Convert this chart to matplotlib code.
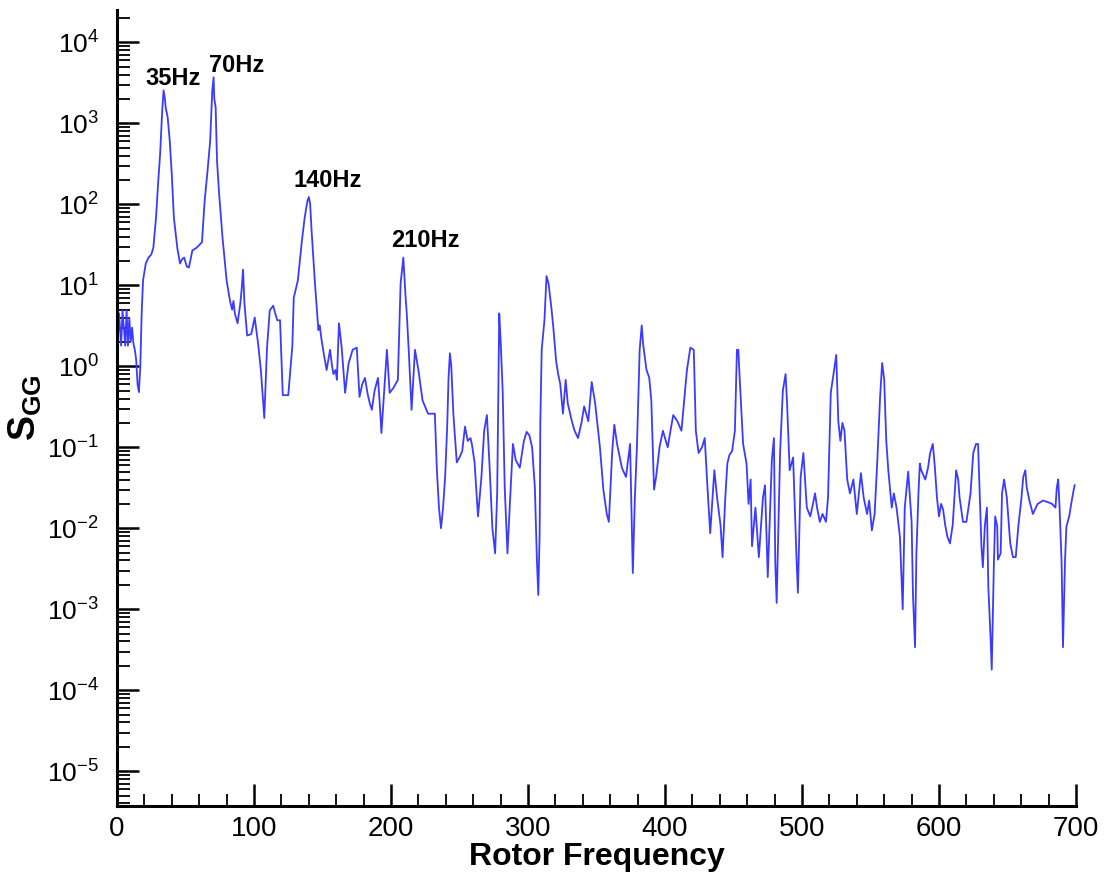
import matplotlib
matplotlib.use("Agg")
import matplotlib.pyplot as plt
from matplotlib.ticker import LogLocator, MultipleLocator, LogFormatterSciNotation, NullFormatter

plt.rcParams['font.family'] = ['Liberation Sans', 'DejaVu Sans']
plt.rcParams['mathtext.fontset'] = 'custom'
plt.rcParams['mathtext.rm'] = 'Liberation Sans'
plt.rcParams['mathtext.it'] = 'Liberation Sans:italic'
plt.rcParams['mathtext.bf'] = 'Liberation Sans:bold'
plt.rcParams['axes.unicode_minus'] = False

# spectrum (Hz, S_GG)
freq = [0, 0.5, 1.5, 3, 4, 6, 7, 8, 9, 10, 11, 12, 13, 14, 15, 16, 17, 18, 19, 21, 23, 25, 26.5, 27.5, 28.5,
        30, 31.5, 33, 34, 35, 35.5, 37, 38.5, 40, 41.5, 44, 46, 47.5, 49, 51, 52.5, 55, 58, 62, 64, 66, 68,
        69.5, 70.5, 71, 72, 73, 74.5, 77, 80, 82.5, 84, 85, 86, 88, 90, 91, 92, 93, 95, 98, 100.5, 103, 105,
        107.5, 109.5, 111.5, 114, 115.5, 117, 119, 121, 125, 128, 129, 132, 135, 137, 139, 140, 141, 142,
        144.5, 147, 148, 149, 151, 153, 155.5, 157, 158, 159.5, 160.5, 162, 164, 166.5, 169, 172, 175, 177,
        179, 181, 183, 184.5, 186, 188, 190.5, 192, 193, 195, 197, 199, 202, 205, 207, 209, 210.5, 211.5,
        213, 215, 217.5, 220, 223, 227, 232, 233.5, 235, 236.5, 238, 239.5, 241, 242, 243, 244, 245.5, 248,
        250, 252, 254, 256, 258, 259, 261, 263.5, 266, 268, 270, 272, 274, 276, 277.5, 279, 280, 281.5, 283,
        285, 287, 289, 291, 294, 297, 299, 301, 303, 305, 306.5, 307.5, 308.5, 309, 310, 312, 313.5, 315,
        317, 318.5, 320.5, 322, 323.5, 325.5, 327.5, 329, 332, 334, 336.5, 339, 341, 344, 346.5, 349, 352.5,
        355, 357.5, 359, 361.5, 363, 365, 368.5, 371.5, 374.5, 376, 376.5, 378, 379.5, 381.5, 383, 384,
        386.5, 388.5, 390, 392, 393.5, 396, 398.5, 400, 402, 404, 406, 409, 412, 414, 416, 418.5, 421, 422.5,
        424.5, 427, 429, 431, 433, 436, 438, 440.5, 442, 444, 445.5, 447, 449, 451, 452.5, 453.5, 454.5, 457,
        459.5, 461, 462.5, 463.5, 466, 468.5, 471.5, 473, 475, 478, 479.5, 480.5, 481.5, 484, 486, 488, 489,
        491, 493.5, 496, 497, 499, 501, 503.5, 506, 508, 509.5, 511, 513, 515, 517.5, 519, 521, 523, 525,
        526.5, 528, 529.5, 531, 533, 535, 537.5, 540, 543, 545, 547.5, 549, 551, 553, 555, 557, 558.5, 560,
        561.5, 563, 565.5, 567, 569, 571.5, 573.5, 575, 577.5, 580, 581, 582.5, 583.5, 585, 586, 587, 590,
        592, 593.5, 595.5, 597, 598.5, 600, 601.5, 603, 604.5, 606, 608, 610, 612.5, 614, 615, 617.5, 620,
        623, 625, 627, 628.5, 630, 631, 632, 633.5, 635, 636, 637.5, 638.5, 640, 641, 642.5, 643, 645, 646,
        647.5, 649.5, 652, 654, 656, 658, 660, 661.5, 663, 664, 666, 668.5, 670, 672, 676, 679.5, 682.5, 685,
        686, 687, 688, 689.5, 690.5, 692, 693, 695, 696.5, 698, 699]

sgg = [39, 2.0, 4.5, 1.8, 4.9, 1.8, 4.9, 1.8, 4.0, 2.0, 3.0, 1.9, 1.6, 1.2, 0.6, 0.48, 1.0, 4.5, 11.5, 18.6,
       22, 24, 29, 44, 69, 182, 427, 1450, 2560, 2000, 1580, 1180, 610, 230, 69, 29, 18.6, 21, 22, 17, 16.6,
       27, 29, 34, 112, 250, 610, 2500, 3700, 2000, 1580, 345, 137, 39, 11.5, 6.4, 5, 6.4, 4.5, 3.4, 6, 9,
       15.6, 6, 2.4, 2.5, 4, 1.9, 0.9, 0.23, 1.7, 4.9, 5.6, 4.5, 3.7, 3.7, 0.44, 0.44, 1.8, 7, 11.5, 36, 69,
       110, 123, 100, 48, 10.5, 2.8, 3.2, 2.3, 1.4, 0.9, 1.6, 1.0, 0.8, 0.9, 0.68, 3.4, 1.7, 0.47, 1.08, 1.6,
       1.7, 0.42, 0.6, 0.72, 0.45, 0.35, 0.29, 0.5, 0.72, 0.3, 0.15, 0.5, 1.6, 0.47, 0.55, 0.68, 10.5, 22,
       7.8, 4.5, 1.5, 0.29, 1.6, 0.9, 0.38, 0.26, 0.26, 0.052, 0.018, 0.010, 0.018, 0.043, 0.18, 0.72, 1.45,
       1.0, 0.26, 0.065, 0.075, 0.09, 0.18, 0.12, 0.13, 0.11, 0.065, 0.014, 0.043, 0.16, 0.25, 0.056, 0.010,
       0.0049, 0.027, 4.5, 2.1, 0.5, 0.032, 0.0049, 0.024, 0.11, 0.07, 0.056, 0.12, 0.155, 0.14, 0.1, 0.032,
       0.004, 0.0015, 0.0087, 0.21, 1.6, 3.7, 13, 10.5, 5.4, 3.0, 1.17, 0.8, 0.61, 0.26, 0.68, 0.35, 0.21,
       0.16, 0.13, 0.2, 0.32, 0.21, 0.64, 0.35, 0.1, 0.03, 0.015, 0.012, 0.09, 0.19, 0.11, 0.056, 0.043,
       0.11, 0.0071, 0.0028, 0.024, 0.1, 1.6, 3.2, 1.9, 0.9, 0.72, 0.38, 0.03, 0.043, 0.1, 0.16, 0.13, 0.1,
       0.16, 0.25, 0.21, 0.16, 0.38, 0.9, 1.7, 1.6, 0.16, 0.085, 0.1, 0.13, 0.032, 0.0087, 0.052, 0.024,
       0.011, 0.0044, 0.024, 0.063, 0.08, 0.09, 0.16, 1.6, 1.6, 0.72, 0.11, 0.063, 0.02, 0.04, 0.006, 0.018,
       0.0044, 0.024, 0.034, 0.0025, 0.07, 0.13, 0.0037, 0.0012, 0.085, 0.5, 0.8, 0.38, 0.052, 0.075,
       0.0042, 0.0016, 0.043, 0.085, 0.018, 0.014, 0.02, 0.027, 0.018, 0.012, 0.015, 0.012, 0.024, 0.47,
       0.8, 1.38, 0.21, 0.12, 0.2, 0.16, 0.04, 0.027, 0.04, 0.015, 0.048, 0.024, 0.015, 0.022, 0.0094,
       0.015, 0.07, 0.42, 1.1, 0.68, 0.12, 0.052, 0.018, 0.027, 0.018, 0.0078, 0.001, 0.018, 0.05, 0.012,
       0.0015, 0.00034, 0.0049, 0.027, 0.063, 0.052, 0.04, 0.056, 0.085, 0.11, 0.056, 0.024, 0.014, 0.02,
       0.017, 0.011, 0.008, 0.0065, 0.011, 0.052, 0.04, 0.024, 0.012, 0.012, 0.027, 0.085, 0.11, 0.11,
       0.02, 0.0059, 0.0033, 0.011, 0.018, 0.0019, 0.0005, 0.00018, 0.0033, 0.014, 0.0105, 0.0041, 0.0049,
       0.027, 0.04, 0.024, 0.0065, 0.0044, 0.0044, 0.011, 0.022, 0.043, 0.052, 0.032, 0.022, 0.015, 0.017,
       0.02, 0.022, 0.021, 0.02, 0.018, 0.032, 0.04, 0.018, 0.0037, 0.00034, 0.0041, 0.0105, 0.014, 0.02,
       0.028, 0.034]

peak_labels = ["35Hz", "70Hz", "140Hz", "210Hz"]
label_x = [41, 87, 154, 225]
label_y = [3600, 5200, 198, 36]

fig = plt.figure(figsize=(11.07, 8.84), dpi=100)
ax = fig.add_axes([0.1057, 0.0882, 0.8663, 0.9005])

ax.plot(freq, sgg, color='#3b3bff', lw=1.3)
ax.set_yscale('log')
ax.set_xlim(0, 700)
ax.set_ylim(10**-5.43, 10**4.4)

for s in ['top', 'right']:
    ax.spines[s].set_visible(False)
for s in ['left', 'bottom']:
    ax.spines[s].set_linewidth(2.2)

ax.xaxis.set_major_locator(MultipleLocator(100))
ax.xaxis.set_minor_locator(MultipleLocator(20))
ax.xaxis.set_minor_formatter(NullFormatter())
ax.set_yticks([10.0 ** k for k in range(-5, 5)])
ax.yaxis.set_minor_locator(LogLocator(base=10, subs=range(2, 10), numticks=20))
ax.yaxis.set_major_formatter(LogFormatterSciNotation())
ax.yaxis.set_minor_formatter(NullFormatter())

ax.tick_params(which='major', direction='in', length=16, width=1.8)
ax.tick_params(which='minor', direction='in', length=9, width=1.3)
ax.tick_params(axis='x', which='major', labelsize=20, pad=7)
ax.tick_params(axis='y', which='major', labelsize=19, pad=13)

ax.set_xlabel('Rotor Frequency', fontsize=23, fontweight='bold', labelpad=0)
ax.set_ylabel(r'$\mathbf{S}_{\mathbf{GG}}$', fontsize=27, labelpad=2)

for t, x, y in zip(peak_labels, label_x, label_y):
    ax.text(x, y, t, fontsize=17, fontweight='bold', ha='center', va='center')

fig.savefig('out.png', dpi=100, facecolor='white')
